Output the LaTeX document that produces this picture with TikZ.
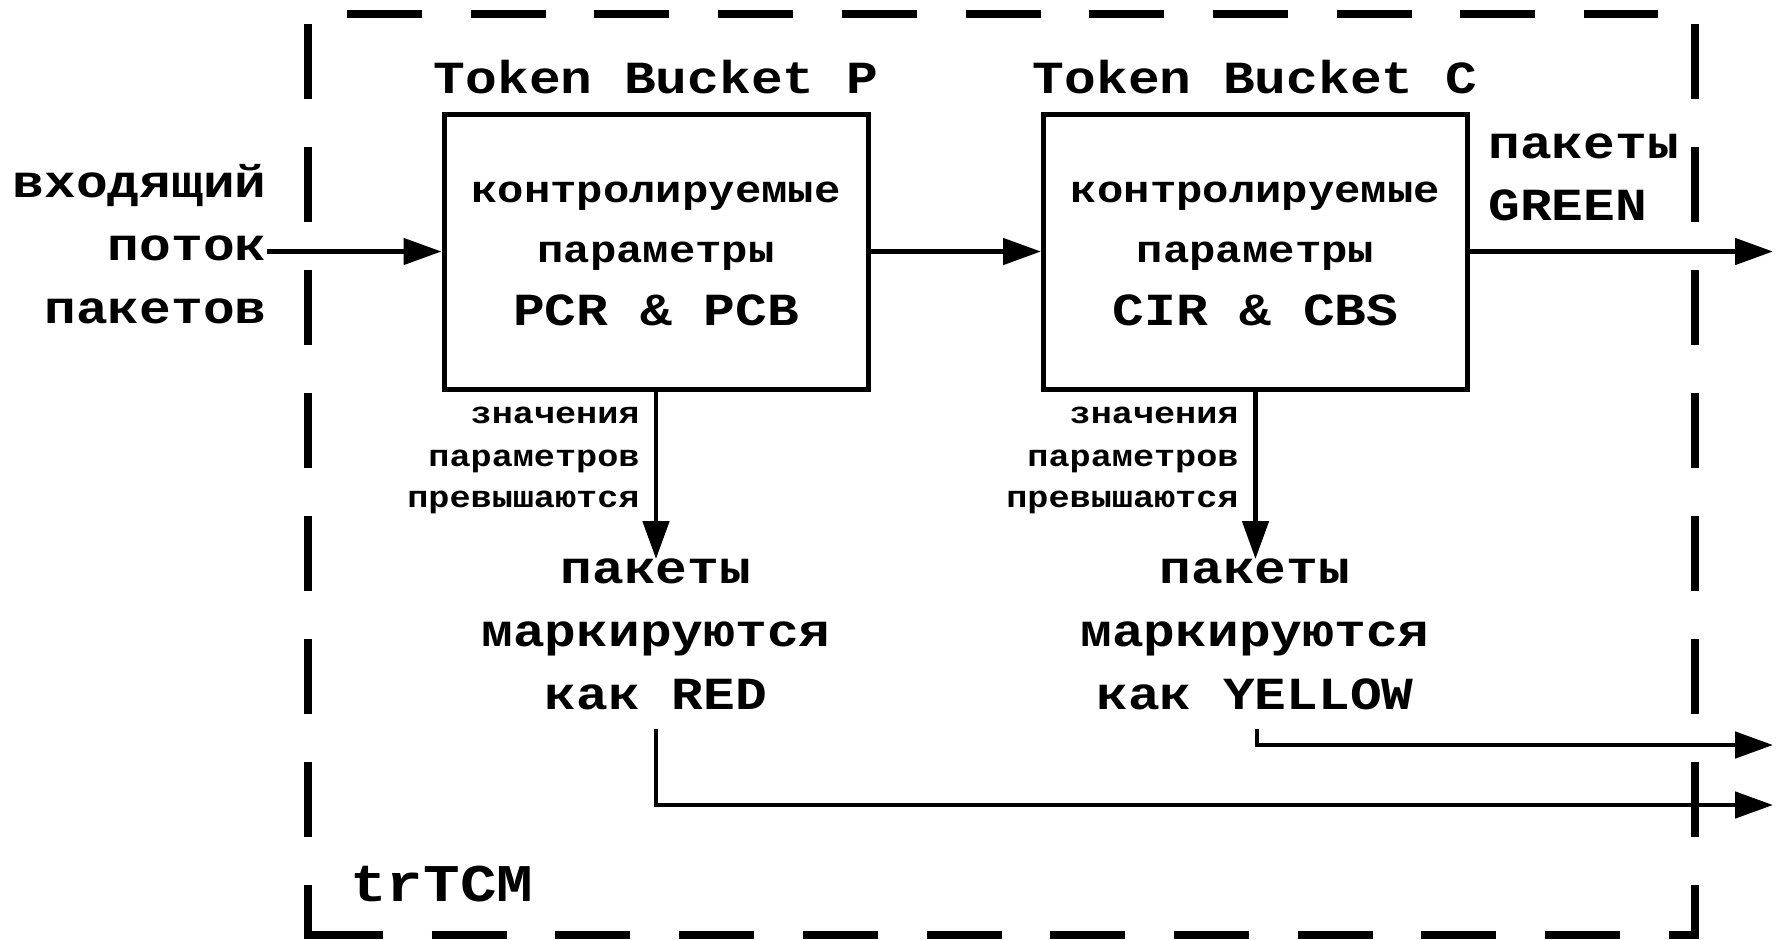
\documentclass[tikz,border=0pt]{standalone}
\usepackage{fontspec}
\setmainfont{Liberation Mono}[FakeStretch=1.15]
\usetikzlibrary{arrows.meta}
\begin{document}
\begin{tikzpicture}[x=0.5pt,y=-0.5pt,
  box/.style={draw, line width=2.5pt, minimum width=212pt, minimum height=137.5pt, inner sep=0pt},
  conn/.style={line width=2.4pt},
  arr/.style={conn, -{Triangle[length=19pt,width=13pt]}},
  vborder/.style={line width=4.3pt, dash pattern=on 37.5pt off 24pt},
  hborder/.style={line width=4.3pt, dash pattern=on 37.5pt off 24.35pt},
  big/.style={font=\bfseries\fontsize{23}{28}\selectfont, inner sep=0pt},
  mid/.style={font=\bfseries\fontsize{19.1}{23}\selectfont, inner sep=0pt},
  small/.style={font=\bfseries\fontsize{15.3}{18}\selectfont, inner sep=0pt},
  huge/.style={font=\bfseries\fontsize{26.5}{30}\selectfont, inner sep=0pt},
]
\useasboundingbox (0,0) rectangle (1777,939);

% dashed frame
\draw[vborder] (308,24) -- (308,935);
\draw[vborder] (1695,24) -- (1695,935);
\draw[hborder] (308,935) -- (1695,935);
\draw[hborder] (347,14) -- (1658,14);
\draw[line width=4.3pt] (308,886) -- (308,935) -- (383,935);
\draw[line width=4.3pt] (1669,935) -- (1695,935) -- (1695,886);
\node[huge, anchor=base west] (tr) at (350,901) {trTCM};

% boxes
\node[box] (P) at (656,251.5) {};
\node[box] (C) at (1255.5,251.5) {};
\node[big, anchor=base] (tbP) at (656,93) {Token Bucket P};
\node[big, anchor=base] (tbC) at (1255,93) {Token Bucket C};
\node[mid, anchor=base] (p1) at (656,202) {контролируемые};
\node[mid, anchor=base] (p2) at (656,262) {параметры};
\node[big, anchor=base] (p3) at (656,325) {PCR \& PCB};
\node[mid, anchor=base] (c1) at (1255.5,202) {контролируемые};
\node[mid, anchor=base] (c2) at (1255.5,262) {параметры};
\node[big, anchor=base] (c3) at (1255.5,325) {CIR \& CBS};

% input
\node[big, anchor=base east] (in1) at (267,197) {входящий};
\node[big, anchor=base east] (in2) at (267,260) {поток};
\node[big, anchor=base east] (in3) at (267,323) {пакетов};
\draw[arr] (in2.east |- P.west) -- (P.west);
\draw[arr] (P.east) -- (C.west);

% green output
\node[big, anchor=base west] (g1) at (1488,158) {пакеты};
\node[big, anchor=base west] (g2) at (1488,220) {GREEN};
\coordinate (gout) at (1773,251.5);
\draw[arr] (C.east) -- (gout);

% red branch
\coordinate (Pdn) at (656,559);
\draw[arr] (P.south) -- (Pdn);
\node[small, anchor=base east] (ps1) at (640,423) {значения};
\node[small, anchor=base east] (ps2) at (640,466) {параметров};
\node[small, anchor=base east] (ps3) at (640,507) {превышаются};
\node[big, anchor=base] (r1) at (656,583) {пакеты};
\node[big, anchor=base] (r2) at (656,646) {маркируются};
\node[big, anchor=base] (r3) at (656,709) {как RED};
\coordinate (rs) at (656,729);
\coordinate (rout) at (1773,805);
\draw[arr] (rs) |- (rout);

% yellow branch
\coordinate (Cdn) at (1255.5,559);
\draw[arr] (C.south) -- (Cdn);
\node[small, anchor=base east] (cs1) at (1239,423) {значения};
\node[small, anchor=base east] (cs2) at (1239,466) {параметров};
\node[small, anchor=base east] (cs3) at (1239,507) {превышаются};
\node[big, anchor=base] (y1) at (1255,583) {пакеты};
\node[big, anchor=base] (y2) at (1255,646) {маркируются};
\node[big, anchor=base] (y3) at (1255,709) {как YELLOW};
\coordinate (ys) at (1257,729);
\coordinate (yout) at (1773,745);
\draw[arr] (ys) |- (yout);
\end{tikzpicture}
\end{document}
